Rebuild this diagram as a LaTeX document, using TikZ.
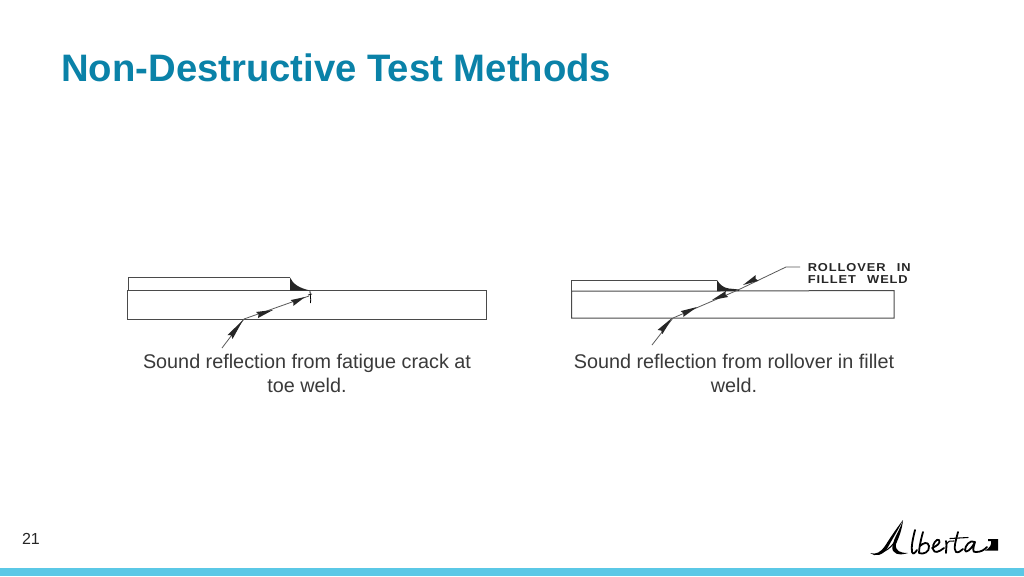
\documentclass[tikz,border=0pt]{standalone}
\usepackage{fontspec}
\setmainfont{Liberation Sans}
\usetikzlibrary{arrows.meta,calc}
\definecolor{titleblue}{HTML}{0A82A8}
\definecolor{barblue}{HTML}{5BC8E6}
\definecolor{bodygrey}{HTML}{3A3A3A}
\definecolor{linegrey}{HTML}{4A4A4A}
\newcommand{\PX}{0.75pt}
\tikzset{
 x=\PX,y=-\PX,
 plate/.style={draw=linegrey,line width=0.75pt},
 weldfill/.style={fill=black!85,draw=none},
 ray/.style={draw=black!65,line width=0.6pt},
 raytip/.style={fill=black!85,draw=none},
 caption/.style={align=center,font=\fontsize{14.85pt}{18pt}\selectfont,text=bodygrey,inner sep=0pt},
 weldlabel/.style={anchor=west,inner sep=0pt,font=\fontsize{8.6pt}{9pt}\selectfont\bfseries,text=black!85},
 ink/.style={draw=black,line cap=round,line join=round,line width=1.35pt},
 inkthin/.style={draw=black,line cap=round,line join=round,line width=0.8pt},
}
\newcommand{\rayhead}[4]{\fill[raytip] (#1,#2) -- ($(#3,#4)!2.4pt!90:(#1,#2)$) -- ($(#3,#4)!0.1!(#1,#2)$) -- ($(#3,#4)!2.4pt!-90:(#1,#2)$) -- cycle;}
\begin{document}
\begin{tikzpicture}
\useasboundingbox (0,0) rectangle (1024,576);
\fill[white] (0,0) rectangle (1024,576);
\fill[barblue] (0,568) rectangle (1024,576);
\node[anchor=west,inner sep=0pt,font=\fontsize{28.7pt}{32pt}\selectfont\bfseries,text=titleblue] (title) at (61,68) {Non-Destructive Test Methods};
\node[inner sep=0pt,font=\fontsize{12pt}{14pt}\selectfont,text=black!85] (pagenum) at (31,539) {21};
% left figure
\draw[plate] (128,290.5) -- (128,277.5) -- (290,277.5);
\draw[plate] (127.5,290.5) rectangle (486.5,319);
\fill[weldfill] (290,277.5) .. controls (293,284) and (299,288) .. (310,290.5) -- (290,290.5) -- cycle;
\draw[black,line width=0.6pt] (310,291) .. controls (311.5,294) and (309,295) .. (310.5,297) .. controls (311.5,299) and (310,300) .. (310.5,303);
\draw[black,line width=0.5pt] (308,295) -- (312,294);
\coordinate (la) at (222,348);
\coordinate (lb) at (244,319);
\coordinate (lc) at (309,296);
\draw[ray] (la) -- (lb) -- (lc);
\rayhead{243}{320}{230}{337}
\rayhead{273}{310}{257}{315}
\rayhead{305}{297}{292}{303}
\node[caption] (capL) at (307,373) {Sound reflection from fatigue crack at\\toe weld.};
% right figure
\draw[plate] (571.5,291) -- (571.5,280) -- (717,280);
\draw[plate] (571.5,291) -- (717,291) -- (894,290.5) -- (894,318) -- (571.5,318) -- cycle;
\fill[weldfill] (717,280) .. controls (720,285) and (724,288) .. (729,288.5) -- (739,289.5) -- (739,291) -- (717,291) -- cycle;
\coordinate (ra) at (652,345);
\coordinate (rb) at (673,318);
\coordinate (rc) at (738,290);
\coordinate (rd) at (786,267);
\coordinate (re) at (800,267);
\draw[ray] (ra) -- (rb) -- (rc) -- (rd) -- (re);
\rayhead{672}{318}{660}{332}
\rayhead{697}{307}{682}{314}
\rayhead{712}{300}{727}{294}
\rayhead{743}{285}{757}{278}
\node[weldlabel] (lab1) at (807.5,268) {\addfontfeatures{LetterSpace=8,FakeStretch=1.12}ROLLOVER\hspace{8.5pt}IN};
\node[weldlabel] (lab2) at (807.5,279.5) {\addfontfeatures{LetterSpace=8,FakeStretch=1.12}FILLET\hspace{8.5pt}WELD};
\node[caption] (capR) at (734,373) {Sound reflection from rollover in fillet\\weld.};
% logo
\fill[black] (870,553) .. controls (876,555) and (881,552) .. (885,546) .. controls (890,538) and (896,529) .. (903,520) .. controls (898,530) and (893,538) .. (888,547) .. controls (883,556) and (875,557) .. (870,553) -- cycle;
\fill[black] (903,520) .. controls (902,530) and (899,537) .. (896,544) .. controls (895,551) and (900,553) .. (908,553) .. controls (899,556) and (891,554) .. (892.5,546) .. controls (894,537) and (900,530) .. (903,520) -- cycle;
\draw[inkthin] (882,552) .. controls (886,551) and (890,548) .. (894,543);
\draw[ink] (915,530) .. controls (913,538) and (911,547) .. (912,552) .. controls (913,555) and (915,553) .. (917,550);
\draw[ink] (923,532) .. controls (921,539) and (919,548) .. (919,553) .. controls (923,555) and (930,552) .. (929,546) .. controls (928,541) and (923,543) .. (920,546);
\draw[ink] (932,548) .. controls (937,546) and (941,543) .. (939,540) .. controls (937,538) and (932,544) .. (933,549) .. controls (934,554) and (939,552) .. (944,548);
\draw[ink] (946,541) .. controls (947,545) and (946,549) .. (946,553);
\draw[inkthin] (946,545) .. controls (948,541) and (951,540) .. (954,541);
\draw[ink] (958,532) .. controls (956,540) and (953,549) .. (956,552) .. controls (958,553) and (961,551) .. (963,549);
\draw[inkthin] (950,538.5) -- (968,537.5);
\draw[ink] (975,542) .. controls (970,539) and (965,546) .. (965,550) .. controls (965,554) and (971,550) .. (975,542) .. controls (973,548) and (972,553) .. (976,552) .. controls (981,552) and (984,550) .. (987,547);
\fill[black] (988,539) -- (998,539) -- (998,550.5) -- (985,550.5) .. controls (990,548) and (992,544) .. (991,541) -- (988,541) -- cycle;
\end{tikzpicture}
\end{document}
